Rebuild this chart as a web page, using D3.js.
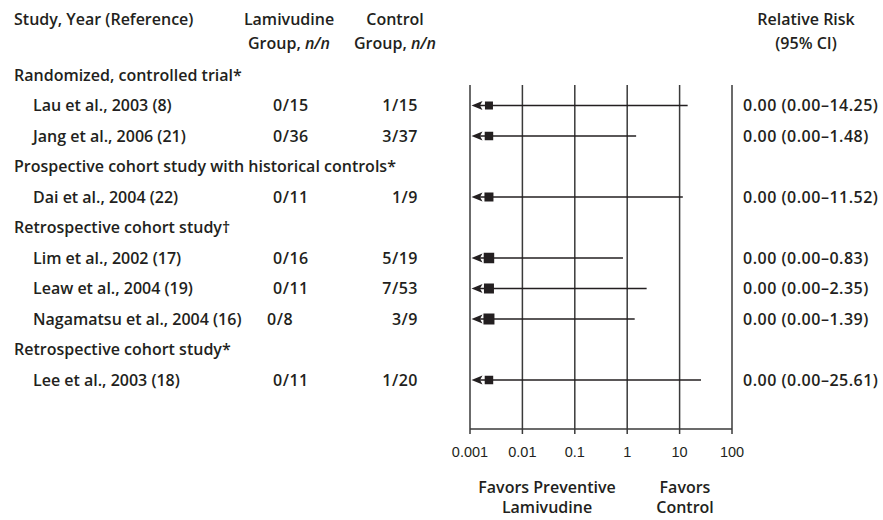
<!DOCTYPE html>
<html><head><meta charset="utf-8">
<script src="https://cdn.jsdelivr.net/npm/d3@7"></script>
<style>
body{margin:0;background:#fff;}
svg text{font-family:"Open Sans",sans-serif;font-weight:600;fill:#231f20;}
</style></head>
<body><svg id="c" width="883" height="520"></svg>
<script>
// ---- data ----
const rowKinds = ["group","study","study","group","study","group","study","study","study","group","study"];
const rowLabels = ["Randomized, controlled trial*","Lau et al., 2003 (8)","Jang et al., 2006 (21)",
  "Prospective cohort study with historical controls*","Dai et al., 2004 (22)",
  "Retrospective cohort study\u2020","Lim et al., 2002 (17)","Leaw et al., 2004 (19)","Nagamatsu et al., 2004 (16)",
  "Retrospective cohort study*","Lee et al., 2003 (18)"];
const studies = ["Lau et al., 2003 (8)","Jang et al., 2006 (21)","Dai et al., 2004 (22)","Lim et al., 2002 (17)","Leaw et al., 2004 (19)","Nagamatsu et al., 2004 (16)","Lee et al., 2003 (18)"];
const lamivudine = ["0/15","0/36","0/11","0/16","0/11","0/8","0/11"];
const control = ["1/15","3/37","1/9","5/19","7/53","3/9","1/20"];
const rr = [0.00,0.00,0.00,0.00,0.00,0.00,0.00];
const ciLow = [0.00,0.00,0.00,0.00,0.00,0.00,0.00];
const ciHigh = [14.25,1.48,11.52,0.83,2.35,1.39,25.61];
const weight = [8,8.5,9,10.5,10,11,8.5];
const ticks = [0.001,0.01,0.1,1,10,100];
const tickLabels = ["0.001","0.01","0.1","1","10","100"];
const plotFloor = 0.0023; // where the zero estimate is drawn (clipped, arrow to left)

const svg = d3.select("#c");
const x = d3.scaleLog().domain([0.001,100]).range([470,732]);
const y = d3.scalePoint().domain(d3.range(rowLabels.length)).range([75,380]);
const yTop = 85, yAxis = 429;
const FS = "16px";

// headers
function multi(xx, lines, anchor){
  const te = svg.append("text").attr("x",xx).attr("text-anchor",anchor).style("font-size",FS);
  lines.forEach((l,i)=>{
    const ts = te.append("tspan").attr("x",xx).attr("y",25+i*24);
    l.forEach(seg=>ts.append("tspan").text(seg[0]).style("font-style",seg[1]?"italic":"normal"));
  });
}
multi(14,[[["Study, Year (Reference)"]]],"start");
multi(289,[[["Lamivudine"]],[["Group, "],["n/n",1]]],"middle");
multi(395,[[["Control"]],[["Group, "],["n/n",1]]],"middle");
multi(806,[[["Relative Risk"]],[["(95% CI)"]]],"middle");

// row labels
svg.selectAll("text.row").data(rowLabels).join("text").attr("class","row")
  .attr("x",(d,i)=>rowKinds[i]==="group"?14:33)
  .attr("y",(d,i)=>y(i)).attr("dy","0.36em").style("font-size",FS).text(d=>d);

const studyIdx = rowKinds.map((k,i)=>k==="study"?i:-1).filter(i=>i>=0);
const sy = j => y(studyIdx[j]);

svg.selectAll("text.lam").data(lamivudine).join("text").attr("class","lam")
  .attr("x",(d,j)=>studies[j].startsWith("Nagamatsu")?267:273).attr("y",(d,j)=>sy(j)).attr("dy","0.36em")
  .style("font-size",FS).style("letter-spacing","0.5px").text(d=>d);
svg.selectAll("text.ctl").data(control).join("text").attr("class","ctl")
  .attr("x",418).attr("y",(d,j)=>sy(j)).attr("dy","0.36em").attr("text-anchor","end")
  .style("font-size",FS).style("letter-spacing","0.5px").text(d=>d);
svg.selectAll("text.rr").data(rr).join("text").attr("class","rr")
  .attr("x",743).attr("y",(d,j)=>sy(j)).attr("dy","0.36em").style("font-size",FS).style("letter-spacing","0.5px")
  .text((d,j)=>`${d.toFixed(2)} (${ciLow[j].toFixed(2)}\u2013${ciHigh[j].toFixed(2)})`);

// grid lines
const g = svg.append("g");
g.selectAll("line.grid").data(ticks).join("line")
  .attr("x1",d=>x(d)).attr("x2",d=>x(d)).attr("y1",yTop).attr("y2",yAxis+5)
  .attr("stroke","#3a3a3a").attr("stroke-width",1.5);
g.append("line").attr("x1",x(0.001)).attr("x2",x(100)).attr("y1",yAxis).attr("y2",yAxis)
  .attr("stroke","#3a3a3a").attr("stroke-width",1.5);
svg.selectAll("text.tick").data(ticks).join("text").attr("class","tick")
  .attr("x",d=>x(d)).attr("y",457).attr("text-anchor","middle")
  .style("font-family","'Liberation Sans',Arial,sans-serif").style("font-weight","400").style("font-size","14.5px")
  .text((d,i)=>tickLabels[i]);

// CI lines, arrows, squares
ciHigh.forEach((hi,j)=>{
  const yy = sy(j);
  const tip = x(0.001)+1.5;
  svg.append("line").attr("x1",tip+6).attr("x2",x(hi)).attr("y1",yy).attr("y2",yy)
    .attr("stroke","#231f20").attr("stroke-width",1.6);
  svg.append("path").attr("d",`M${tip},${yy} L${tip+11},${yy-4.5} L${tip+8.5},${yy} L${tip+11},${yy+4.5} Z`)
    .attr("fill","#231f20");
  const s = weight[j];
  svg.append("rect").attr("x",x(plotFloor)-s/2).attr("y",yy-s/2).attr("width",s).attr("height",s).attr("fill","#231f20");
});

// favors labels
const fav = svg.append("g").style("font-size",FS);
fav.append("text").attr("x",547).attr("y",493).attr("text-anchor","middle").text("Favors Preventive");
fav.append("text").attr("x",547).attr("y",513).attr("text-anchor","middle").text("Lamivudine");
fav.append("text").attr("x",685).attr("y",493).attr("text-anchor","middle").text("Favors");
fav.append("text").attr("x",685).attr("y",513).attr("text-anchor","middle").text("Control");
</script></body></html>
